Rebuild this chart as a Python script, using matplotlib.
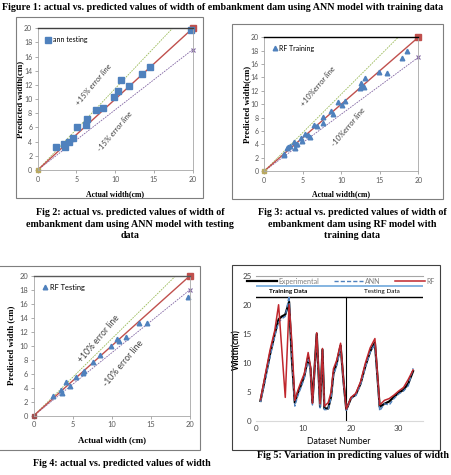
import matplotlib.pyplot as plt
from matplotlib.patches import Rectangle

W, H = 451, 475

# Fig 2: ANN model, testing data (actual, predicted)
ann_test_actual = [2.4, 3.4, 3.5, 4.0, 4.6, 5.1, 6.2, 6.4, 7.5, 8.4, 9.8, 10.4, 10.8, 11.8, 13.4, 14.5, 19.8]
ann_test_pred = [3.3, 3.7, 3.2, 4.0, 4.5, 6.0, 6.4, 7.2, 8.5, 8.8, 10.3, 11.2, 12.7, 11.8, 13.5, 14.6, 19.8]

# Fig 3: RF model, training data
rf_train_actual = [2.5, 2.6, 2.9, 3.1, 3.3, 3.8, 4.0, 4.1, 4.3, 4.8, 4.9, 5.3, 5.7, 5.9, 6.5, 6.9,
                   7.6, 7.6, 8.7, 8.9, 9.6, 10.1, 10.5, 12.4, 12.5, 12.7, 12.9, 13.1, 14.9, 15.9, 17.9, 18.5]
rf_train_pred = [2.4, 2.5, 3.4, 3.6, 3.8, 4.3, 3.5, 4.0, 4.1, 4.9, 4.5, 5.5, 5.4, 5.1, 6.9, 6.7,
                 8.1, 7.2, 9.0, 8.5, 10.3, 9.8, 10.4, 12.4, 13.1, 12.7, 12.6, 13.9, 14.8, 14.6, 16.9, 18.0]

# Fig 4: RF model, testing data
rf_test_actual = [2.5, 3.5, 3.6, 4.1, 4.6, 5.4, 6.3, 6.4, 7.6, 8.5, 9.9, 10.7, 10.9, 11.8, 13.5, 14.5, 19.8]
rf_test_pred = [2.8, 3.7, 3.2, 4.8, 4.3, 5.5, 6.1, 6.4, 7.7, 8.7, 10.0, 10.9, 10.7, 11.2, 13.3, 13.2, 17.0]

# Fig 5: width vs dataset number
dataset_no = [1, 2, 3, 4, 4.8, 5.5, 6.2, 7.0, 7.6, 8.2, 8.8, 9.5, 10.2, 11.0, 11.5, 11.9, 12.8,
              13.5, 14.0, 14.4, 15.2, 15.8, 16.3, 17.0, 17.8, 18.4, 19,
              20, 21, 22, 23, 24, 25, 26, 27, 28, 29, 30, 31, 32, 33]
width_exp = [3.5, 7.5, 11.5, 15.0, 17.5, 18.0, 18.3, 20.5, 10.5, 3.2, 4.8, 6.2, 7.8, 11.0, 9.0, 3.2, 15.0,
             2.5, 12.3, 2.2, 2.2, 4.2, 8.2, 10.0, 13.0, 7.0, 2.0,
             4.0, 4.6, 6.5, 9.5, 12.0, 13.5, 2.5, 3.0, 3.4, 4.2, 4.9, 5.4, 6.5, 8.6]
width_ann = [3.3, 7.0, 11.0, 14.6, 17.0, 17.6, 18.0, 21.5, 11.0, 2.6, 4.3, 5.8, 7.4, 10.6, 8.6, 2.8, 14.6,
             2.3, 11.9, 2.0, 2.0, 4.0, 7.9, 9.6, 12.7, 6.6, 1.9,
             3.9, 4.4, 6.3, 9.3, 11.8, 13.3, 1.8, 3.0, 2.8, 3.9, 4.7, 5.2, 6.1, 9.1]
width_rf = [3.7, 8.0, 12.2, 15.6, 20.0, 12.0, 4.1, 20.0, 13.5, 3.6, 5.2, 6.8, 8.2, 11.8, 9.4, 3.1, 15.2,
            3.0, 12.5, 2.6, 3.2, 5.0, 9.0, 10.5, 13.4, 7.2, 2.1,
            4.1, 4.8, 6.8, 10.0, 12.6, 14.2, 2.8, 3.6, 3.9, 4.5, 5.2, 5.8, 7.2, 8.8]

fig = plt.figure(figsize=(W / 100, H / 100), dpi=100)
fig.patch.set_facecolor("white")

SERIF = "Liberation Serif"
SANS = "Lato"
BLUE = "#4f81bd"
RED = "#c0504d"
GREEN = "#9bbb59"
PURPLE = "#8064a2"
GRAY = "#8c8c8c"


def add_ax(left, right, top, bottom):
    return fig.add_axes([left / W, 1 - bottom / H, (right - left) / W, (bottom - top) / H])


def frame(left, right, top, bottom, color="#7f7f7f"):
    fig.patches.append(Rectangle((left / W, 1 - bottom / H), (right - left) / W, (bottom - top) / H,
                                 transform=fig.transFigure, fill=False, edgecolor=color, lw=0.8))


def caption(x, y, s, size=7.2, ha="center"):
    fig.text(x / W, 1 - y / H, s, ha=ha, va="center", family=SERIF, weight="bold",
             size=size, linespacing=1.4)


def scatter_panel(ax, actual, pred, marker, label, hi, lo, hi_txt, lo_txt, hi_pos, lo_pos,
                  fsize, italic, top_color, xlab, ylab, origin_color):
    ax.set_xlim(0, 20)
    ax.set_ylim(0, 20)
    ax.plot([0, 20 / hi], [0, 20], ls=(0, (2, 1.2)), color=GREEN, lw=0.6)
    ax.plot([0, 20], [0, 20 * lo], ls=(0, (2, 1.2)), color=PURPLE, lw=0.6)
    ax.plot([20], [20 * lo], "x", color=PURPLE, ms=3, mew=0.8, clip_on=False)
    ax.plot([0, 20], [0, 20], color=RED, lw=1.0)
    ax.plot([20], [20], "s", color=RED, ms=4, clip_on=False)
    ax.plot([0], [0], "s", color=origin_color, ms=3.5, clip_on=False)
    ms = 4.2 if marker == "s" else 3.3
    ax.plot(actual, pred, marker, color=BLUE, ms=ms, ls="none", label=label, clip_on=False)
    ax.legend(loc="upper left", bbox_to_anchor=(0.02, 0.98), frameon=False, handlelength=0.8,
              handletextpad=0.2, borderpad=0.2, prop={"family": SANS, "size": fsize})
    style = "italic" if italic else "normal"
    ax.text(*hi_pos, hi_txt, rotation=50, ha="center", va="center", size=fsize + 0.8,
            family=SANS, style=style, color="#404040")
    ax.text(*lo_pos, lo_txt, rotation=50, ha="center", va="center", size=fsize + 0.8,
            family=SANS, style=style, color="#404040")
    ax.set_xticks([0, 5, 10, 15, 20])
    ax.set_yticks(range(0, 21, 2))
    ax.tick_params(labelsize=fsize, colors=GRAY, length=2, width=0.5, pad=2)
    for lab in ax.get_xticklabels() + ax.get_yticklabels():
        lab.set_family(SANS)
        lab.set_color("#595959")
    for sp in ax.spines.values():
        sp.set_color("#a6a6a6")
        sp.set_linewidth(0.6)
    ax.spines["top"].set_color(top_color)
    ax.spines["top"].set_linewidth(1.0)
    ax.set_xlabel(xlab[0], family=SERIF, weight="bold", size=xlab[1])
    ax.set_ylabel(ylab[0], family=SERIF, weight="bold", size=ylab[1])
    ax.xaxis.set_label_coords(0.5, xlab[2])
    ax.yaxis.set_label_coords(ylab[2], 0.5)


# top caption
caption(2, 7, "Figure 1: actual vs. predicted values of width of embankment dam using ANN model with training data",
        ha="left")

# Fig 2 panel
frame(16, 203, 17, 198)
ax1 = add_ax(37.7, 192.7, 28.3, 170)
scatter_panel(ax1, ann_test_actual, ann_test_pred, "s", "ann testing", 1.15, 0.85,
              "+15% error line", "-15% error line", (7.2, 12.0), (10.0, 5.4),
              5.0, True, "#404040", ("Actual width(cm)", 5.6, -0.141),
              ("Predicted width(cm)", 6.4, -0.085), "#b8a860")

# Fig 3 panel
frame(232, 443, 24, 199)
ax2 = add_ax(264.3, 418.3, 37.3, 171)
scatter_panel(ax2, rf_train_actual, rf_train_pred, "^", "RF Training", 1.15, 0.85,
              "+10%error line", "-10%error line", (7.0, 12.6), (10.9, 6.5),
              5.0, True, "black", ("Actual width(cm)", 5.6, -0.144),
              ("Predicted width(cm)", 6.4, -0.086), "#b8a860")

caption(130, 224, "Fig 2: actual vs. predicted values of width of\nembankment dam using ANN model with testing\ndata")
caption(352, 224, "Fig 3: actual vs. predicted values of width of\nembankment dam using RF model with\ntraining data")

# Fig 4 panel
frame(-2, 200, 266, 450)
ax3 = add_ax(33.7, 190, 275.7, 415.7)
scatter_panel(ax3, rf_test_actual, rf_test_pred, "^", "RF Testing", 1.10, 0.90,
              "+10% error line", "-10% error line", (8.3, 11.0), (11.5, 7.4),
              5.4, False, "#595959", ("Actual width (cm)", 6.4, -0.145),
              ("Predicted width (cm)", 6.4, -0.116), "#a05050")

caption(33, 463, "Fig 4: actual vs. predicted values of width", ha="left")

# Fig 5 panel
frame(232, 440, 265, 450, color="#404040")
ax4 = add_ax(255.7, 422.6, 275.6, 421.3)
ax4.set_xlim(0, 35)
ax4.set_ylim(0, 25)
ax4.axhline(23.3, color="#6fa8dc", lw=1.2)
ax4.axhline(21.3, color="black", lw=1.0)
ax4.plot([19, 19], [0, 21.3], color="black", lw=0.8)
ax4.plot(dataset_no, width_exp, color="black", lw=1.6, label="Experimental")
ax4.plot(dataset_no, width_ann, color=BLUE, lw=1.0, ls=(0, (3, 1.5)), label="ANN")
ax4.plot(dataset_no, width_rf, color="#c0272d", lw=1.1, label="RF")
ax4.text(6.8, 22.2, "Training Data", ha="center", va="center", size=4.6, family=SANS, weight="bold")
ax4.text(26.4, 22.2, "Testing Data", ha="center", va="center", size=4.6, family=SANS)
leg = ax4.legend(loc="center", bbox_to_anchor=(0.51, 0.96), ncol=3, frameon=False, handlelength=4.2,
                 columnspacing=2.2, handletextpad=0.2, borderpad=0, prop={"family": SANS, "size": 5})
for t in leg.get_texts():
    t.set_color("#7f7f7f")
ax4.set_xticks([0, 10, 20, 30])
ax4.set_yticks([0, 5, 10, 15, 20, 25])
ax4.tick_params(labelsize=5.8, colors="#404040", length=0, pad=3)
for lab in ax4.get_xticklabels() + ax4.get_yticklabels():
    lab.set_family(SANS)
for side in ["left", "right"]:
    ax4.spines[side].set_visible(False)
ax4.spines["top"].set_color("#a6a6a6")
ax4.spines["top"].set_linewidth(0.8)
ax4.spines["bottom"].set_color("#d9d9d9")
ax4.set_xlabel("Dataset Number", family=SANS, size=6.3)
ax4.set_ylabel("Width(cm)", family=SANS, size=6.3, weight="bold")
ax4.xaxis.set_label_coords(0.5, -0.108)
ax4.yaxis.set_label_coords(-0.085, 0.49)

caption(257, 456, "Fig 5: Variation in predicting values of width", ha="left")

plt.savefig("out.png", dpi=100)
